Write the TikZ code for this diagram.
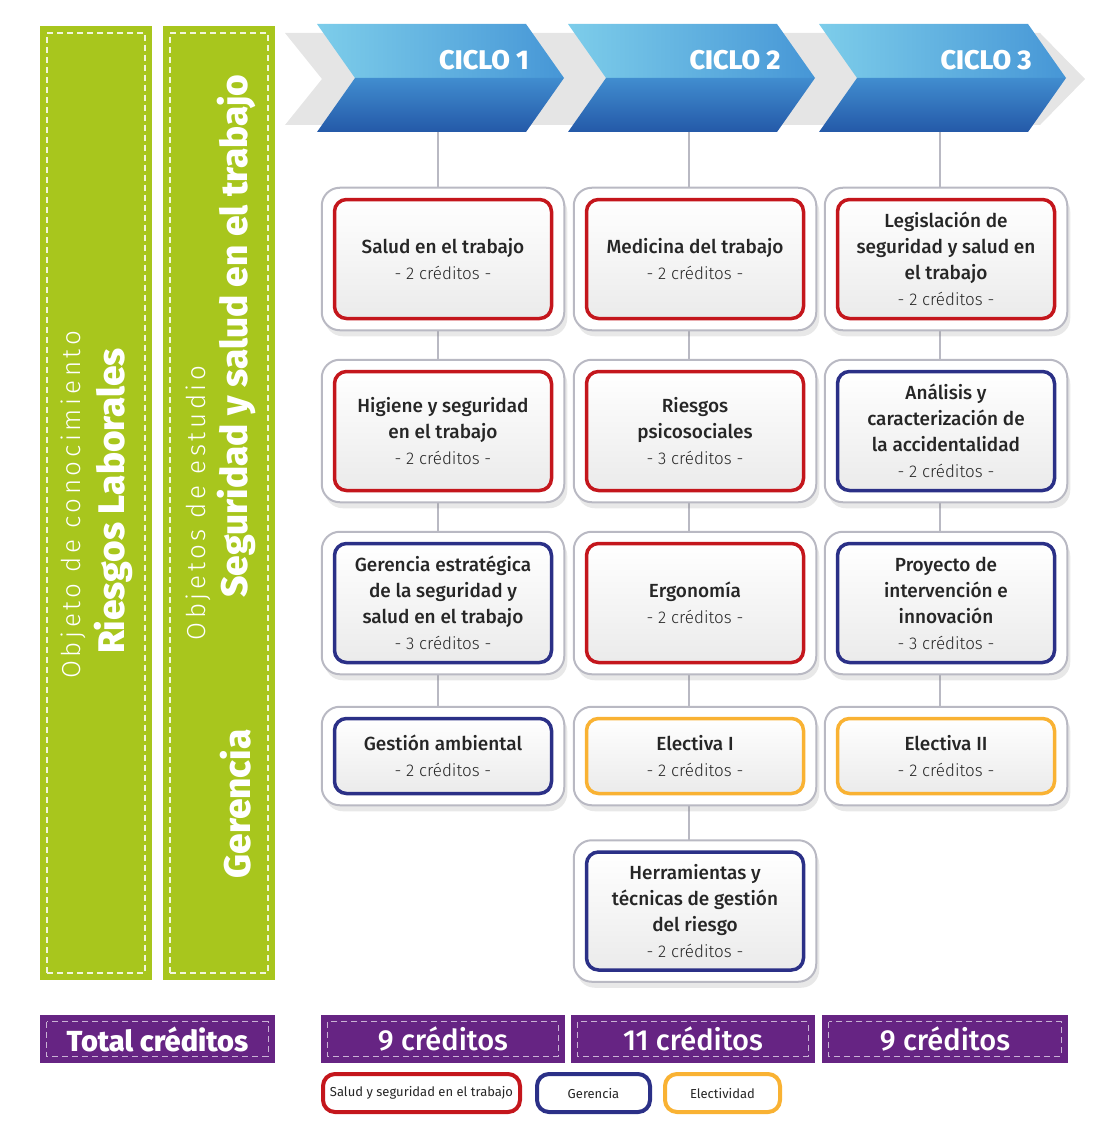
\documentclass[tikz,border=0pt]{standalone}
\usepackage{fontspec}
\setmainfont{Fira Sans}[BoldFont={Fira Sans Medium}]
\newfontfamily\heavyfont{Fira Sans ExtraBold}
\newfontfamily\lightfont{Fira Sans Light}[LetterSpace=14]
\newfontfamily\credfont{Fira Sans Light}
\usetikzlibrary{positioning,fit,backgrounds,shadows}

\definecolor{verde}{HTML}{A8C61D}
\definecolor{morado}{HTML}{662483}
\definecolor{rojo}{HTML}{C4161C}
\definecolor{azul}{HTML}{2B3087}
\definecolor{naranja}{HTML}{F9B233}
\definecolor{celeste}{HTML}{7DCDEA}
\definecolor{azulmed}{HTML}{4696D6}
\definecolor{azulosc}{HTML}{2459A8}
\definecolor{gris}{HTML}{B9B9C3}

\newcommand{\cred}[1]{{\credfont\mdseries\fontsize{17}{24}\selectfont - #1 créditos -}}

\tikzset{
  curso/.style = {draw = #1, line width = 3.5pt, rounded corners = 12pt, minimum width = 217pt, minimum height = 119pt, top color = white, bottom color = black!8, align = center, text = black!85, inner sep = 0pt, font = \fontsize{19}{26}\selectfont\bfseries},
  marco/.style = {draw = gris, line width = 2pt, rounded corners = 18pt, fill = white, inner xsep = 11pt, inner ysep = 10pt, drop shadow = {opacity = 0.18, shadow xshift = 3pt, shadow yshift = -6pt}},
  enlace/.style = {draw = gris, line width = 1.2pt},
  barra/.style = {fill = verde, minimum width = 112pt, minimum height = 954pt},
  costura/.style = {draw = verde!15, dashed, dash pattern = on 6pt off 4pt, line width = 1.2pt},
  total/.style = {fill = morado, minimum height = 48pt, text = white},
  leyenda/.style = {draw = #1, line width = 4pt, rounded corners = 12pt, minimum height = 38pt, fill = white, text = black!85, font = \fontsize{13}{13}\selectfont},
  vertical/.style = {rotate = 90, text = white}
}

\begin{document}
\begin{tikzpicture}[x = 1pt, y = -1pt]
\useasboundingbox (0,0) rectangle (1097,1134);

% barras verdes
\node[barra] (barra1) at (96,503) {};
\node[costura, minimum width = 98pt, minimum height = 940pt] at (barra1) {};
\node[barra] (barra2) at (219,503) {};
\node[costura, minimum width = 98pt, minimum height = 940pt] at (barra2) {};
\node[vertical, font = \lightfont\fontsize{26}{26}\selectfont] (obj1) at (73,505) {Objeto de conocimiento};
\node[vertical, font = \heavyfont\fontsize{37}{37}\selectfont] (tema1) at (113,501) {Riesgos Laborales};
\node[vertical, font = \lightfont\fontsize{26}{26}\selectfont] (obj2) at (198,503) {Objetos de estudio};
\node[vertical, font = \heavyfont\fontsize{37}{37}\selectfont] (tema2) at (236,336) {Seguridad y salud en el trabajo};
\node[vertical, font = \heavyfont\fontsize{37}{37}\selectfont] (tema3) at (236,804) {Gerencia};

% ciclos
\fill[black!10] (285,33) -- (1040,33) -- (1085,79) -- (1040,125) -- (285,125) -- (322,79) -- cycle;
\shade[left color = celeste, right color = azulmed] (317,24) -- (526,24) -- (564,78) -- (355,78) -- cycle;
\shade[top color = azulmed!85!azulosc, bottom color = azulosc] (355,78) -- (564,78) -- (526,132) -- (317,132) -- cycle;
\shade[left color = celeste, right color = azulmed] (568,24) -- (777,24) -- (815,78) -- (606,78) -- cycle;
\shade[top color = azulmed!85!azulosc, bottom color = azulosc] (606,78) -- (815,78) -- (777,132) -- (568,132) -- cycle;
\shade[left color = celeste, right color = azulmed] (819,24) -- (1028,24) -- (1066,78) -- (857,78) -- cycle;
\shade[top color = azulmed!85!azulosc, bottom color = azulosc] (857,78) -- (1066,78) -- (1028,132) -- (819,132) -- cycle;
\node[text = white, font = \heavyfont\fontsize{27}{27}\selectfont] (ciclo1) at (484,60) {CICLO 1};
\node[text = white, font = \heavyfont\fontsize{27}{27}\selectfont] (ciclo2) at (735,60) {CICLO 2};
\node[text = white, font = \heavyfont\fontsize{27}{27}\selectfont] (ciclo3) at (986,60) {CICLO 3};
\coordinate (c1) at (438,132);
\coordinate (c2) at (689,132);
\coordinate (c3) at (940,132);

% ciclo 1
\node[curso = rojo] (b11) at (443,259) {Salud en el trabajo\\\cred{2}};
\node[curso = rojo] (b12) at (443,431) {Higiene y seguridad\\en el trabajo\\\cred{2}};
\node[curso = azul] (b13) at (443,603) {Gerencia estratégica\\de la seguridad y\\salud en el trabajo\\\cred{3}};
\node[curso = azul, minimum height = 75pt] (b14) at (443,756) {Gestión ambiental\\\cred{2}};
% ciclo 2
\node[curso = rojo] (b21) at (695,259) {Medicina del trabajo\\\cred{2}};
\node[curso = rojo] (b22) at (695,431) {Riesgos\\psicosociales\\\cred{3}};
\node[curso = rojo] (b23) at (695,603) {Ergonomía\\\cred{2}};
\node[curso = naranja, minimum height = 75pt] (b24) at (695,756) {Electiva I\\\cred{2}};
\node[curso = azul, minimum height = 118pt] (b25) at (695,911) {Herramientas y\\técnicas de gestión\\del riesgo\\\cred{2}};
% ciclo 3
\node[curso = rojo] (b31) at (946,259) {Legislación de\\seguridad y salud en\\el trabajo\\\cred{2}};
\node[curso = azul] (b32) at (946,431) {Análisis y\\caracterización de\\la accidentalidad\\\cred{2}};
\node[curso = azul] (b33) at (946,603) {Proyecto de\\intervención e\\innovación\\\cred{3}};
\node[curso = naranja, minimum height = 75pt] (b34) at (946,756) {Electiva II\\\cred{2}};

\begin{pgfonlayer}{background}
\draw[enlace] (c1) -- (c1 |- b14.north);
\draw[enlace] (c2) -- (c2 |- b25.north);
\draw[enlace] (c3) -- (c3 |- b34.north);
\node[marco, fit = (b11)] (m11) {};
\node[marco, fit = (b12)] (m12) {};
\node[marco, fit = (b13)] (m13) {};
\node[marco, fit = (b14)] (m14) {};
\node[marco, fit = (b21)] (m21) {};
\node[marco, fit = (b22)] (m22) {};
\node[marco, fit = (b23)] (m23) {};
\node[marco, fit = (b24)] (m24) {};
\node[marco, fit = (b25)] (m25) {};
\node[marco, fit = (b31)] (m31) {};
\node[marco, fit = (b32)] (m32) {};
\node[marco, fit = (b33)] (m33) {};
\node[marco, fit = (b34)] (m34) {};
\end{pgfonlayer}

% totales
\node[total, minimum width = 235pt, font = \heavyfont\fontsize{29}{29}\selectfont] (tot) at (157.5,1039) {Total créditos};
\node[total, minimum width = 244pt, font = \bfseries\fontsize{29}{29}\selectfont] (tot1) at (443,1039) {9 créditos};
\node[total, minimum width = 244pt, font = \bfseries\fontsize{29}{29}\selectfont] (tot2) at (693,1039) {11 créditos};
\node[total, minimum width = 246pt, font = \bfseries\fontsize{29}{29}\selectfont] (tot3) at (945,1039) {9 créditos};
\foreach \t in {tot,tot1,tot2,tot3}
  \draw[draw = morado!35!white, dashed, dash pattern = on 6pt off 4pt, line width = 1.1pt]
    ([shift = {(7,7)}]\t.north west) rectangle ([shift = {(-7,-7)}]\t.south east);

% leyenda
\node[leyenda = rojo, minimum width = 197pt] (ley1) at (421.5,1093) {Salud y seguridad en el trabajo};
\node[leyenda = azul, minimum width = 113pt] (ley2) at (593.5,1093) {Gerencia};
\node[leyenda = naranja, minimum width = 115pt] (ley3) at (722.5,1093) {Electividad};
\end{tikzpicture}
\end{document}
